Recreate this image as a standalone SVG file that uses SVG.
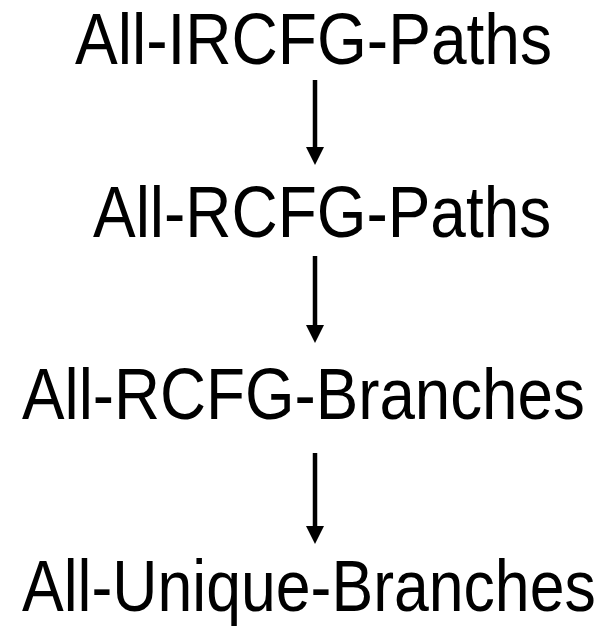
<svg xmlns="http://www.w3.org/2000/svg" width="608" height="627" viewBox="0 0 608 627">
  <style>
    .label { font-family: "Liberation Sans", Arial, sans-serif; font-size: 72px; fill: #000; }
    .edge { stroke: #000; stroke-width: 4.5; fill: none; }
  </style>
  <defs>
    <marker id="arrow" markerUnits="userSpaceOnUse" markerWidth="18" markerHeight="18" refX="0" refY="9" orient="auto" viewBox="0 0 18 18">
      <path d="M0,0 L18,9 L0,18 Z" fill="#000"/>
    </marker>
  </defs>

  <rect width="608" height="627" fill="#fff"/>

  <!-- labels are set in a narrowed sans face -->
  <g id="node-ircfg-paths">
    <text class="label" transform="translate(75,64) scale(0.89,1)">All-IRCFG-Paths</text>
  </g>
  <g id="node-rcfg-paths">
    <text class="label" transform="translate(93,237) scale(0.888,1)">All-RCFG-Paths</text>
  </g>
  <g id="node-rcfg-branches">
    <text class="label" transform="translate(22,419) scale(0.885,1)">All-RCFG-Branches</text>
  </g>
  <g id="node-unique-branches">
    <text class="label" transform="translate(22,611) scale(0.869,1)">All-Unique-Branches</text>
  </g>

  <g id="connectors">
    <path class="edge" d="M315,80 V147" marker-end="url(#arrow)"/>
    <path class="edge" d="M315,256 V325" marker-end="url(#arrow)"/>
    <path class="edge" d="M315,453 V526" marker-end="url(#arrow)"/>
  </g>
</svg>
